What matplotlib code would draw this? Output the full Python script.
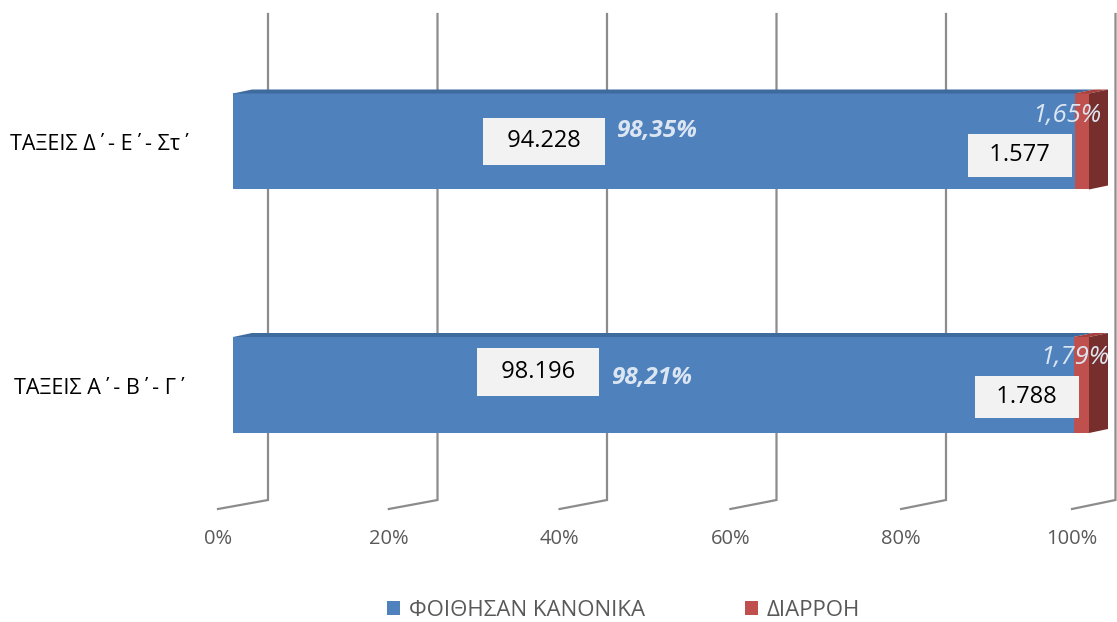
import matplotlib

matplotlib.use("Agg")
import matplotlib.pyplot as plt
from matplotlib.patches import Polygon

# Data
categories = ["ΤΑΞΕΙΣ Α΄- Β΄- Γ΄", "ΤΑΞΕΙΣ Δ΄- Ε΄- Στ΄"]
series_names = ["ΦΟΙΘΗΣΑΝ ΚΑΝΟΝΙΚΑ", "ΔΙΑΡΡΟΗ"]
normal_counts = [98196, 94228]
dropout_counts = [1788, 1577]
x_ticks = [0, 20, 40, 60, 80, 100]

BLUE = "#4F81BD"
BLUE_TOP = "#3E6B9E"
RED = "#C0504D"
RED_TOP = "#A5403D"
RED_SIDE = "#772F2D"
GRID = "#8C8C8C"
TICK_TXT = "#595959"
PCT_TXT = "#DCE6F2"
BOX = "#F2F2F2"
FONT = ["Open Sans", "DejaVu Sans"]

# Layout in pixels of the 1117x622 image
W, H = 1117, 622
X0_PX, X100_PX = 233, 1089          # bar front face, 0% and 100%
Y_CAT_PX = [385, 141.5]             # bar centres
PX_X = (X100_PX - X0_PX) / 100.0
PX_Y = Y_CAT_PX[0] - Y_CAT_PX[1]
BAR_H = 96 / PX_Y
DEPTH_DX, DEPTH_DY = 19 / PX_X, 4 / PX_Y

# label offsets (px): (count dx, count dy, pct dx, pct dy, drop box dx, dy, drop pct dx, dy)
LABEL_OFF = [
    (-115, -13, -1, -7, -62, 12, -14, -27),
    (-110, 0, 4, -11, -69, 14, -22, -26),
]


def px_x(px):
    return (px - X0_PX) / PX_X


def px_y(py):
    return (Y_CAT_PX[0] - py) / PX_Y


def fmt_count(n):
    return f"{n:,}".replace(",", ".")


def fmt_pct(p):
    return f"{p:.2f}%".replace(".", ",")


fig = plt.figure(figsize=(W / 100, H / 100), dpi=100)
ax = fig.add_axes([0, 0, 1, 1])
ax.set_xlim(px_x(0), px_x(W))
ax.set_ylim(px_y(H), px_y(0))
ax.axis("off")

# back-wall gridlines with floor diagonals
y_top, y_floor_back, y_floor_front = px_y(14), px_y(500), px_y(509)
for v in x_ticks:
    xb = px_x(268 + 8.475 * v)
    xf = px_x(218 + 8.54 * v)
    ax.plot([xb, xb, xf], [y_top, y_floor_back, y_floor_front],
            color=GRID, lw=1.6, zorder=1, solid_joinstyle="miter")
    ax.text(xf, px_y(539), f"{v}%", ha="center", va="center",
            fontsize=14.5, color=TICK_TXT, family=FONT)

totals = [a + b for a, b in zip(normal_counts, dropout_counts)]
normal_pct = [a / t * 100 for a, t in zip(normal_counts, totals)]
dropout_pct = [b / t * 100 for b, t in zip(dropout_counts, totals)]
ys = list(range(len(categories)))

ax.barh(ys, normal_pct, height=BAR_H, color=BLUE, zorder=3, label=series_names[0])
ax.barh(ys, dropout_pct, left=normal_pct, height=BAR_H, color=RED, zorder=3,
        label=series_names[1])

for y, a, b in zip(ys, normal_pct, dropout_pct):
    top, bot = y + BAR_H / 2, y - BAR_H / 2
    end = a + b
    ax.add_patch(Polygon([(0, top), (DEPTH_DX, top + DEPTH_DY), (a + DEPTH_DX, top + DEPTH_DY),
                          (a, top)], closed=True, color=BLUE_TOP, zorder=3, lw=0))
    ax.add_patch(Polygon([(a, top), (a + DEPTH_DX, top + DEPTH_DY), (end + DEPTH_DX, top + DEPTH_DY),
                          (end, top)], closed=True, color=RED_TOP, zorder=3, lw=0))
    ax.add_patch(Polygon([(end, bot), (end, top), (end + DEPTH_DX, top + DEPTH_DY),
                          (end + DEPTH_DX, bot + DEPTH_DY)], closed=True, color=RED_SIDE,
                         zorder=3, lw=0))

# data labels
for y, n, d, a, b, off in zip(ys, normal_counts, dropout_counts, normal_pct, dropout_pct, LABEL_OFF):
    cdx, cdy, pdx, pdy, bdx, bdy, qdx, qdy = off
    mid = a / 2
    end = a + b
    ax.text(mid + cdx / PX_X, y - cdy / PX_Y, "  " + fmt_count(n) + "  ", ha="center", va="center",
            fontsize=17, color="black", family=FONT, zorder=5,
            bbox=dict(boxstyle="square,pad=0.5", fc=BOX, ec="none"))
    ax.text(mid + pdx / PX_X, y - pdy / PX_Y, fmt_pct(a), ha="center", va="center",
            fontsize=17.5, color=PCT_TXT, family=FONT, weight="bold", style="italic", zorder=5)
    ax.text(end + bdx / PX_X, y - bdy / PX_Y, "  " + fmt_count(d) + "  ", ha="center", va="center",
            fontsize=17, color="black", family=FONT, zorder=5,
            bbox=dict(boxstyle="square,pad=0.4", fc=BOX, ec="none"))
    ax.text(end + qdx / PX_X, y - qdy / PX_Y, fmt_pct(b), ha="center", va="center",
            fontsize=18.5, color=PCT_TXT, family=FONT, style="italic", zorder=6)

# category labels
for y, name in zip(ys, categories):
    ax.text(px_x(101), y - 3 / PX_Y, name, ha="center", va="center",
            fontsize=15.5, color="black", family=FONT)

leg = fig.legend(loc="center", bbox_to_anchor=(623.5 / W, 1 - 610 / H), ncol=2,
                 frameon=False, handlelength=0.6, handleheight=0.6, handletextpad=0.4,
                 columnspacing=4.5, prop=dict(family=FONT, size=16))
for t in leg.get_texts():
    t.set_color(TICK_TXT)

fig.savefig("out.png", dpi=100)
